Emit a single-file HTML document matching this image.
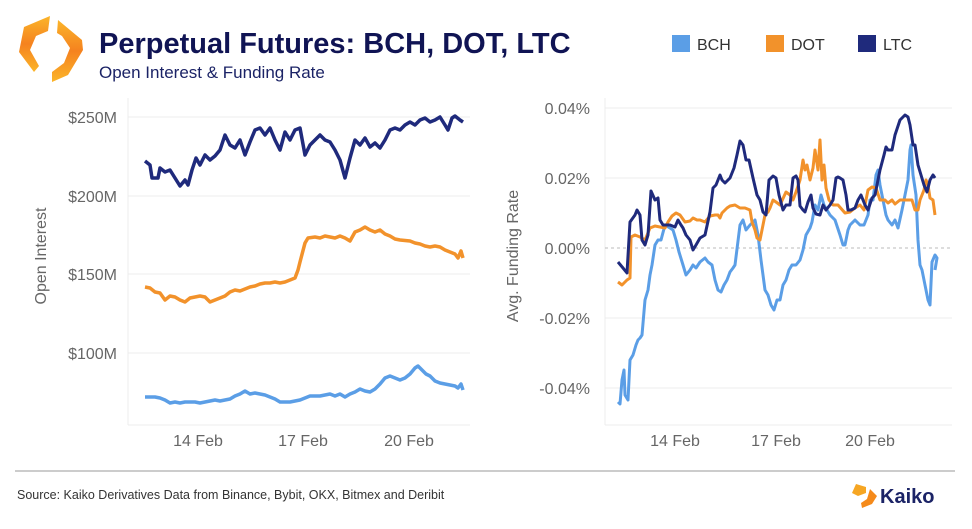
<!DOCTYPE html>
<html><head><meta charset="utf-8"><style>
body{margin:0;background:#fff;width:972px;height:524px;overflow:hidden;font-family:"Liberation Sans",sans-serif}
</style></head><body>
<svg width="972" height="524" viewBox="0 0 972 524" xmlns="http://www.w3.org/2000/svg" font-family="Liberation Sans, sans-serif">
<defs>
<linearGradient id="g1" x1="0" y1="0" x2="0" y2="1"><stop offset="0" stop-color="#fbb52a"/><stop offset="0.5" stop-color="#f5821f"/><stop offset="1" stop-color="#fbb52a"/></linearGradient>
<linearGradient id="g2" x1="0" y1="0" x2="0" y2="1"><stop offset="0" stop-color="#fbb52a"/><stop offset="0.5" stop-color="#f5821f"/><stop offset="1" stop-color="#fbb52a"/></linearGradient>
</defs>
<!-- logo -->
<polygon points="50,16 48,31 36,36 30,50 39,66 34,72 19,52 24,27" fill="url(#g1)"/>
<polygon points="58,20 82,40 83,50 68,75 52,82 52,72 64,63 70,48 62,36 57,33" fill="url(#g2)"/>
<text x="99" y="53" font-size="29" font-weight="bold" fill="#101454">Perpetual Futures: BCH, DOT, LTC</text>
<text x="99" y="78" font-size="17" fill="#1b2366">Open Interest &amp; Funding Rate</text>
<!-- legend -->
<rect x="672" y="35" width="18" height="17" fill="#5b9ee6"/><text x="697" y="50" font-size="16" fill="#333">BCH</text>
<rect x="766" y="35" width="18" height="17" fill="#f2922b"/><text x="791" y="50" font-size="16" fill="#333">DOT</text>
<rect x="858" y="35" width="18" height="17" fill="#1f2a7c"/><text x="883" y="50" font-size="16" fill="#333">LTC</text>
<!-- left axes -->
<g stroke="#ececec" stroke-width="1">
<line x1="128" y1="117" x2="470" y2="117"/><line x1="128" y1="196" x2="470" y2="196"/>
<line x1="128" y1="274" x2="470" y2="274"/><line x1="128" y1="353" x2="470" y2="353"/>
<line x1="128" y1="98" x2="128" y2="425"/><line x1="128" y1="425" x2="470" y2="425"/>
</g>
<g font-size="16" fill="#666" text-anchor="end">
<text x="117" y="123">$250M</text><text x="117" y="202">$200M</text><text x="117" y="280">$150M</text><text x="117" y="359">$100M</text>
</g>
<text transform="translate(46,256) rotate(-90)" font-size="16" fill="#666" text-anchor="middle">Open Interest</text>
<g font-size="16" fill="#666" text-anchor="middle">
<text x="198" y="446">14 Feb</text><text x="303" y="446">17 Feb</text><text x="409" y="446">20 Feb</text>
</g>
<g fill="none" stroke-width="3.5" stroke-linejoin="round">
<polyline stroke="#1f2a7c" points="145,161 150,165 152,178 158,178 160,168 165,172 170,170 175,178 180,186 185,180 188,185 192,170 196,158 200,165 205,155 210,160 215,156 220,150 225,135 230,145 235,148 240,140 245,155 250,142 255,130 260,128 265,135 270,128 275,140 280,150 285,132 290,140 295,130 300,128 305,155 310,145 315,140 320,135 325,140 330,142 335,150 340,160 345,178 350,158 355,140 360,145 365,138 370,147 375,143 380,148 385,140 390,130 395,128 400,130 405,125 410,122 415,125 420,120 425,118 430,122 435,120 440,117 445,125 448,130 452,118 455,116 460,120 463,122"/>
<polyline stroke="#f2922b" points="145,287 150,288 155,292 160,293 165,300 170,296 175,297 180,300 185,302 190,298 195,297 200,296 205,297 210,302 215,300 220,298 225,296 230,292 235,290 240,291 245,289 250,287 255,286 260,284 265,283 270,283 275,282 280,283 285,282 290,280 295,278 298,270 300,262 305,243 308,238 315,237 320,238 325,236 330,237 335,238 340,236 345,238 350,241 355,232 360,230 365,227 370,230 375,232 380,230 385,234 390,236 395,239 400,240 410,241 415,243 420,244 425,246 430,247 435,246 440,247 445,250 450,252 455,254 458,258 461,251 463,258"/>
<polyline stroke="#5b9ee6" points="145,397 155,397 160,398 165,400 170,403 175,402 180,403 185,402 195,402 200,403 210,401 215,400 220,401 230,399 235,396 240,394 245,391 250,394 255,393 260,394 265,395 270,397 275,399 280,402 290,402 295,401 300,400 305,398 310,396 315,396 320,396 325,395 330,394 335,396 340,394 345,397 350,394 355,392 360,389 365,391 370,392 375,389 380,384 385,378 390,376 395,378 400,380 405,378 410,374 415,368 418,366 422,370 426,374 430,376 435,381 440,383 445,384 450,385 455,386 458,388 461,384 463,390"/>
</g>
<!-- right axes -->
<g stroke="#ececec" stroke-width="1">
<line x1="605" y1="108" x2="952" y2="108"/><line x1="605" y1="178" x2="952" y2="178"/>
<line x1="605" y1="318" x2="952" y2="318"/><line x1="605" y1="388" x2="952" y2="388"/>
<line x1="605" y1="98" x2="605" y2="425"/><line x1="605" y1="425" x2="952" y2="425"/>
</g>
<line x1="605" y1="248" x2="952" y2="248" stroke="#bbb" stroke-dasharray="3,3"/>
<g font-size="16" fill="#666" text-anchor="end">
<text x="590" y="114">0.04%</text><text x="590" y="184">0.02%</text><text x="590" y="254">0.00%</text><text x="590" y="324">-0.02%</text><text x="590" y="394">-0.04%</text>
</g>
<text transform="translate(518,256) rotate(-90)" font-size="16" fill="#666" text-anchor="middle">Avg. Funding Rate</text>
<g font-size="16" fill="#666" text-anchor="middle">
<text x="675" y="446">14 Feb</text><text x="776" y="446">17 Feb</text><text x="870" y="446">20 Feb</text>
</g>
<g fill="none" stroke-width="3" stroke-linejoin="round">
<polyline stroke="#5b9ee6" points="618,402 620,404 622,380 624,370 625,395 628,400 630,360 633,355 636,345 638,340 640,338 642,335 645,300 648,290 650,275 652,265 655,245 658,240 661,240 665,225 670,228 673,230 676,240 679,252 683,265 686,275 690,270 693,265 696,268 700,262 705,258 708,262 712,265 715,280 718,290 721,292 724,285 727,280 730,272 733,268 735,265 740,225 743,220 746,230 750,225 755,220 758,235 761,260 765,290 768,295 771,305 774,310 777,300 780,300 783,285 786,280 789,270 792,265 796,265 800,260 803,250 806,235 810,228 812,222 815,205 818,210 821,195 824,205 827,210 830,215 835,220 840,235 843,245 845,245 848,230 850,225 855,220 860,225 864,225 868,215 870,200 873,200 876,175 878,170 880,185 883,200 886,215 888,220 892,225 895,220 898,228 902,210 905,195 908,180 910,150 911,145 913,175 916,195 918,240 920,265 922,270 924,280 926,290 928,300 930,305 932,262 935,255 937,258 935,270"/>
<polyline stroke="#f2922b" points="618,282 622,285 627,280 630,278 631,237 635,235 640,237 645,240 648,233 650,228 655,226 660,227 665,228 668,222 672,216 676,213 680,215 685,222 690,221 693,218 697,220 700,220 705,222 710,216 715,215 718,215 720,218 722,213 725,210 727,208 730,206 735,205 740,208 745,208 750,210 752,222 755,230 757,238 760,240 763,225 765,215 768,212 770,208 773,200 776,202 780,205 786,192 790,195 793,200 796,192 800,180 803,160 805,170 807,165 810,180 813,168 815,150 818,170 820,140 822,180 824,165 826,188 829,200 833,205 838,205 845,213 850,212 855,208 860,205 864,210 868,190 872,187 876,188 880,200 885,200 888,203 892,200 895,204 900,200 905,200 908,200 912,200 915,210 918,210 920,200 924,190 926,180 928,185 930,198 933,200 935,215"/>
<polyline stroke="#1f2a7c" points="618,262 623,268 627,273 630,222 635,215 637,210 640,215 642,240 645,245 648,235 651,191 655,200 658,198 660,220 663,225 670,225 675,227 678,220 681,225 683,228 686,235 690,240 693,250 696,245 700,238 705,235 710,212 713,188 716,185 720,175 722,180 725,183 730,178 734,168 737,155 740,141 743,145 746,160 749,160 753,178 757,195 760,200 763,212 766,215 769,180 773,176 776,178 779,195 783,210 786,205 790,205 793,178 796,176 798,180 800,206 803,210 805,212 808,202 811,195 813,208 816,214 820,215 823,205 826,210 830,205 833,200 836,178 838,177 840,178 843,180 846,195 848,210 851,210 855,208 858,200 861,195 865,205 868,210 872,198 875,195 880,170 884,155 886,147 888,150 892,150 895,135 900,120 905,115 908,117 910,125 913,145 915,145 918,165 921,175 924,185 927,192 930,180 933,175 935,178"/>
</g>
<!-- footer -->
<line x1="15" y1="471" x2="955" y2="471" stroke="#999" stroke-width="1"/>
<text x="17" y="499" font-size="12.5" fill="#333">Source: Kaiko Derivatives Data from Binance, Bybit, OKX, Bitmex and Deribit</text>
<polygon points="856,484 866,487 866,493 858,496 852,493" fill="#f6a623"/>
<polygon points="870,489 877,496 872,504 862,508 861,503 867,499" fill="#f58a1a"/>
<text x="880" y="503" font-size="20" font-weight="bold" fill="#1b2366">Kaiko</text>
</svg>
</body></html>
